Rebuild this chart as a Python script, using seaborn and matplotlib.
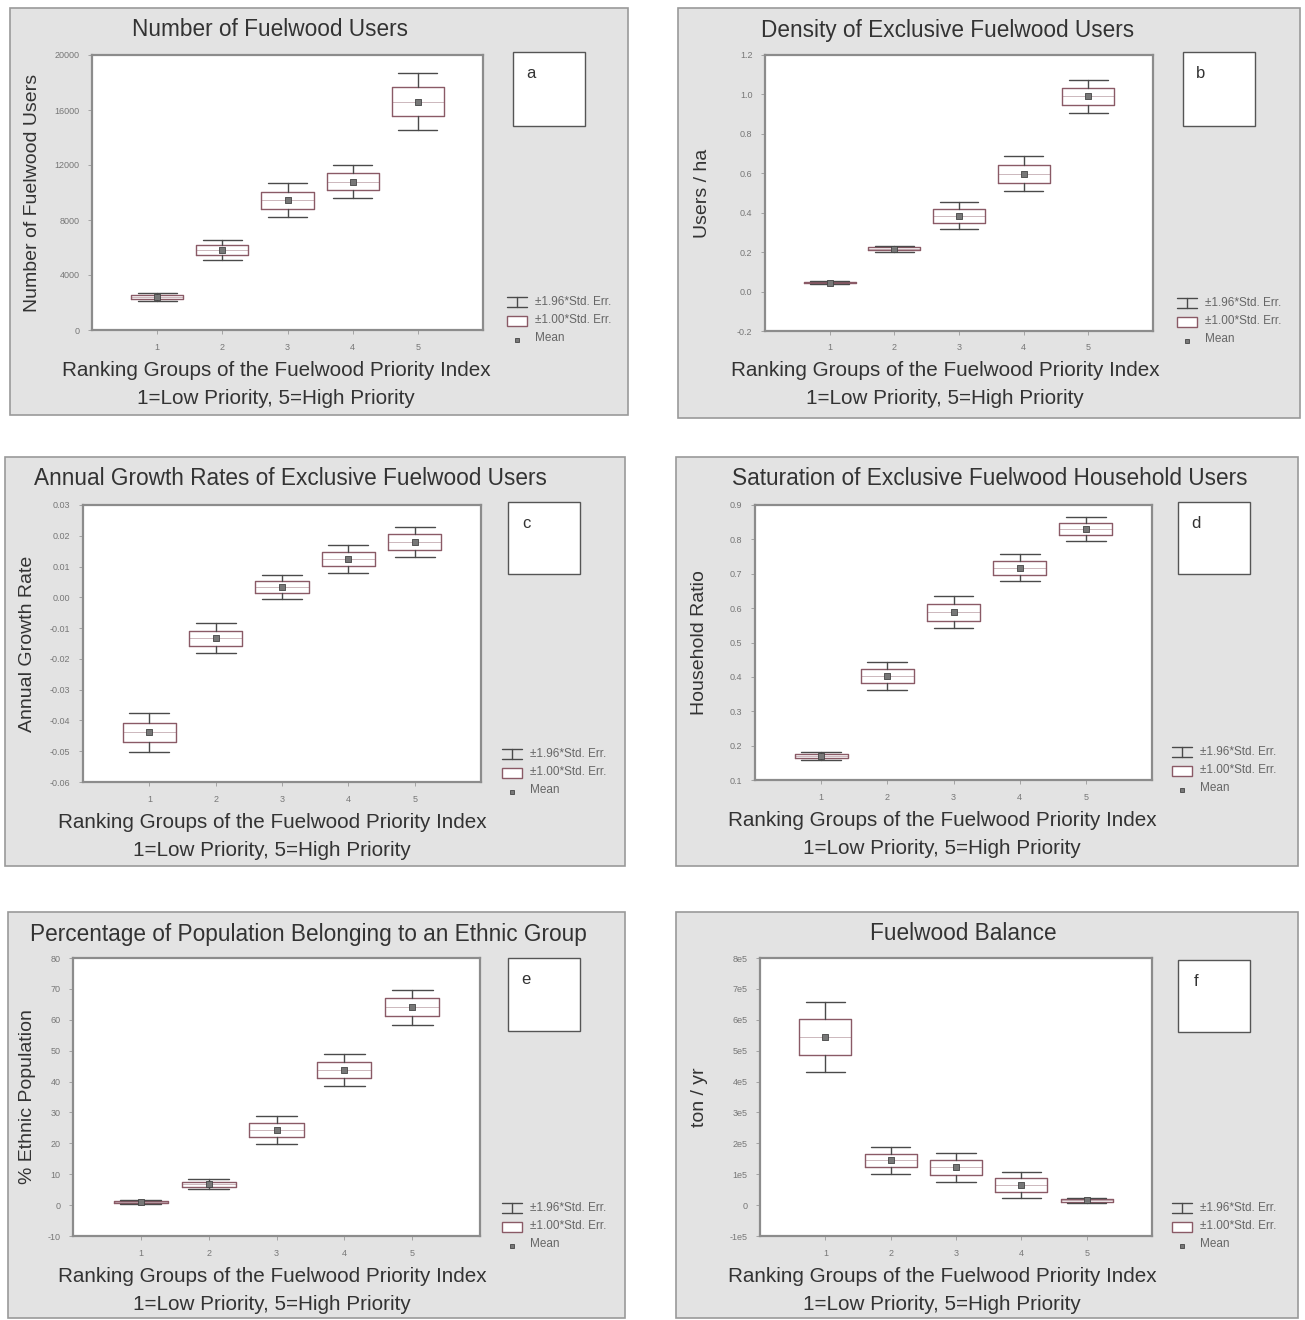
import matplotlib
matplotlib.use("Agg")
import matplotlib.pyplot as plt
import seaborn as sns
import numpy as np
from matplotlib.patches import Rectangle
from matplotlib.lines import Line2D

sns.set_style("white")
plt.rcParams['font.family'] = ['Liberation Sans', 'DejaVu Sans']

W, H = 1305, 1320

# ranking groups
groups = [1, 2, 3, 4, 5]

# means and standard errors
users_mean = [2400, 5800, 9450, 10800, 16600]
users_se = [130, 380, 620, 620, 1050]

density_mean = [0.045, 0.218, 0.385, 0.597, 0.99]
density_se = [0.004, 0.008, 0.035, 0.045, 0.042]

growth_mean = [-0.0439, -0.0133, 0.0033, 0.0124, 0.0180]
growth_se = [0.0032, 0.0025, 0.0020, 0.0023, 0.0025]

saturation_mean = [0.170, 0.403, 0.588, 0.717, 0.830]
saturation_se = [0.006, 0.021, 0.024, 0.020, 0.018]

ethnic_mean = [1.0, 6.8, 24.3, 43.7, 64.0]
ethnic_se = [0.3, 0.8, 2.3, 2.7, 2.9]

balance_mean = [545000, 145000, 122000, 65000, 15000]
balance_se = [58000, 22000, 24000, 22000, 4000]

panels = [
    dict(title="Number of Fuelwood Users", ylabel="Number of Fuelwood Users", tag="a",
         mean=users_mean, se=users_se,
         yticks=[0, 4000, 8000, 12000, 16000, 20000],
         yticklabels=["0", "4000", "8000", "12000", "16000", "20000"],
         rect=(10, 8, 628, 415), plot=(92, 55, 483, 330), tagbox=(513, 52, 585, 126),
         title_x=270, xlab_x=276, ylab_x=41),
    dict(title="Density of Exclusive Fuelwood Users", ylabel="Users / ha", tag="b",
         mean=density_mean, se=density_se,
         yticks=[-0.2, 0.0, 0.2, 0.4, 0.6, 0.8, 1.0, 1.2],
         yticklabels=["-0.2", "0.0", "0.2", "0.4", "0.6", "0.8", "1.0", "1.2"],
         rect=(678, 8, 1300, 418), plot=(765, 55, 1153, 331), tagbox=(1183, 52, 1255, 126),
         title_x=948, xlab_x=945, ylab_x=711),
    dict(title="Annual Growth Rates of Exclusive Fuelwood Users", ylabel="Annual Growth Rate", tag="c",
         mean=growth_mean, se=growth_se,
         yticks=[-0.06, -0.05, -0.04, -0.03, -0.02, -0.01, 0.0, 0.01, 0.02, 0.03],
         yticklabels=["-0.06", "-0.05", "-0.04", "-0.03", "-0.02", "-0.01", "0.00", "0.01", "0.02", "0.03"],
         rect=(5, 457, 625, 866), plot=(83, 505, 481, 782), tagbox=(508, 502, 580, 574),
         title_x=290, xlab_x=272, ylab_x=36),
    dict(title="Saturation of Exclusive Fuelwood Household Users", ylabel="Household Ratio", tag="d",
         mean=saturation_mean, se=saturation_se,
         yticks=[0.1, 0.2, 0.3, 0.4, 0.5, 0.6, 0.7, 0.8, 0.9],
         yticklabels=["0.1", "0.2", "0.3", "0.4", "0.5", "0.6", "0.7", "0.8", "0.9"],
         rect=(676, 457, 1298, 866), plot=(755, 505, 1152, 780), tagbox=(1178, 502, 1250, 574),
         title_x=990, xlab_x=942, ylab_x=708),
    dict(title="Percentage of Population Belonging to an Ethnic Group", ylabel="% Ethnic Population", tag="e",
         mean=ethnic_mean, se=ethnic_se,
         yticks=[-10, 0, 10, 20, 30, 40, 50, 60, 70, 80],
         yticklabels=["-10", "0", "10", "20", "30", "40", "50", "60", "70", "80"],
         rect=(8, 912, 625, 1318), plot=(73, 958, 480, 1236), tagbox=(508, 958, 580, 1031),
         title_x=308, xlab_x=272, ylab_x=36),
    dict(title="Fuelwood Balance", ylabel="ton / yr", tag="f",
         mean=balance_mean, se=balance_se,
         yticks=[-1e5, 0, 1e5, 2e5, 3e5, 4e5, 5e5, 6e5, 7e5, 8e5],
         yticklabels=["-1e5", "0", "1e5", "2e5", "3e5", "4e5", "5e5", "6e5", "7e5", "8e5"],
         rect=(676, 912, 1298, 1318), plot=(760, 958, 1152, 1236), tagbox=(1178, 960, 1250, 1032),
         title_x=963, xlab_x=942, ylab_x=708),
]

box_col = "#8a5a66"
whisk_col = "#4a4a4a"
text_col = "#333333"

fig = plt.figure(figsize=(W / 100, H / 100), dpi=100)
fig.patch.set_facecolor("white")


def fx(x):
    return x / W


def fy(y):
    return 1 - y / H


for p in panels:
    x0, y0, x1, y1 = p["rect"]
    fig.patches.append(Rectangle((fx(x0), fy(y1)), fx(x1 - x0), (y1 - y0) / H,
                                 transform=fig.transFigure, facecolor="#e3e3e3",
                                 edgecolor="#9a9a9a", linewidth=1.2, zorder=-5))
    px0, py0, px1, py1 = p["plot"]
    ax = fig.add_axes([fx(px0), fy(py1), fx(px1 - px0), (py1 - py0) / H])
    ax.set_zorder(2)
    ax.set_facecolor("white")

    stats = []
    for g, m, s in zip(groups, p["mean"], p["se"]):
        stats.append(dict(med=m, q1=m - s, q3=m + s,
                          whislo=m - 1.96 * s, whishi=m + 1.96 * s, fliers=[]))
    ax.bxp(stats, positions=groups, widths=0.8, showfliers=False,
           boxprops=dict(color=box_col, linewidth=1.0),
           medianprops=dict(color=box_col, linewidth=0.6, alpha=0.5),
           whiskerprops=dict(color=whisk_col, linewidth=1.0),
           capprops=dict(color=whisk_col, linewidth=1.0), capwidths=0.6)
    sns.scatterplot(x=groups, y=p["mean"], ax=ax, marker="s", s=14,
                    color="#777777", edgecolor="#444444", linewidth=0.6, zorder=5)

    ax.set_xlim(0, 6)
    ax.set_ylim(p["yticks"][0], p["yticks"][-1])
    ax.set_xticks(groups)
    ax.set_xticklabels([str(g) for g in groups], fontsize=6.5, color="#777777")
    ax.set_yticks(p["yticks"])
    ax.set_yticklabels(p["yticklabels"], fontsize=6.5, color="#777777")
    ax.tick_params(axis="both", length=3, width=0.6, color="#999999", direction="out",
                   left=True, bottom=True, pad=6)
    for sp in ax.spines.values():
        sp.set_color("#8c8c8c")
        sp.set_linewidth(1.6)
    ax.set_ylabel(p["ylabel"], fontsize=14, color=text_col)
    ax.yaxis.set_label_coords((p["ylab_x"] - px0) / (px1 - px0), 0.5)

    # title and x label
    fig.text(fx(p["title_x"]), fy(p["rect"][1] + 22), p["title"], ha="center", va="center",
             fontsize=16.3, color=text_col)
    fig.text(fx(p["xlab_x"]), fy(py1 + 40), "Ranking Groups of the Fuelwood Priority Index",
             ha="center", va="center", fontsize=14.9, color=text_col)
    fig.text(fx(p["xlab_x"]), fy(py1 + 68), "1=Low Priority, 5=High Priority",
             ha="center", va="center", fontsize=14.9, color=text_col)

    # panel letter box
    tx0, ty0, tx1, ty1 = p["tagbox"]
    fig.patches.append(Rectangle((fx(tx0), fy(ty1)), fx(tx1 - tx0), (ty1 - ty0) / H,
                                 transform=fig.transFigure, facecolor="white",
                                 edgecolor="#555555", linewidth=1.0, zorder=1))
    fig.text(fx(tx0 + 18), fy(ty0 + 22), p["tag"], ha="center", va="center",
             fontsize=12, color=text_col)

    # legend
    lx = tx0 - 6
    ly = py1 - 28
    fig.lines.append(Line2D([fx(lx), fx(lx + 20)], [fy(ly - 5)] * 2, transform=fig.transFigure,
                            color=whisk_col, linewidth=1.0))
    fig.lines.append(Line2D([fx(lx), fx(lx + 20)], [fy(ly + 5)] * 2, transform=fig.transFigure,
                            color=whisk_col, linewidth=1.0))
    fig.lines.append(Line2D([fx(lx + 10)] * 2, [fy(ly - 5), fy(ly + 5)], transform=fig.transFigure,
                            color=whisk_col, linewidth=1.0))
    fig.patches.append(Rectangle((fx(lx), fy(ly + 24)), fx(20), 10 / H, transform=fig.transFigure,
                                 facecolor="white", edgecolor=box_col, linewidth=1.0))
    fig.patches.append(Rectangle((fx(lx + 8), fy(ly + 40)), fx(4), 4 / H, transform=fig.transFigure,
                                 facecolor="#777777", edgecolor="#444444", linewidth=0.6))
    fig.text(fx(lx + 28), fy(ly), "\u00b11.96*Std. Err.", fontsize=8.5, color="#666666", va="center")
    fig.text(fx(lx + 28), fy(ly + 18), "\u00b11.00*Std. Err.", fontsize=8.5, color="#666666", va="center")
    fig.text(fx(lx + 28), fy(ly + 36), "Mean", fontsize=8.5, color="#666666", va="center")

fig.savefig("out.png", dpi=100)
